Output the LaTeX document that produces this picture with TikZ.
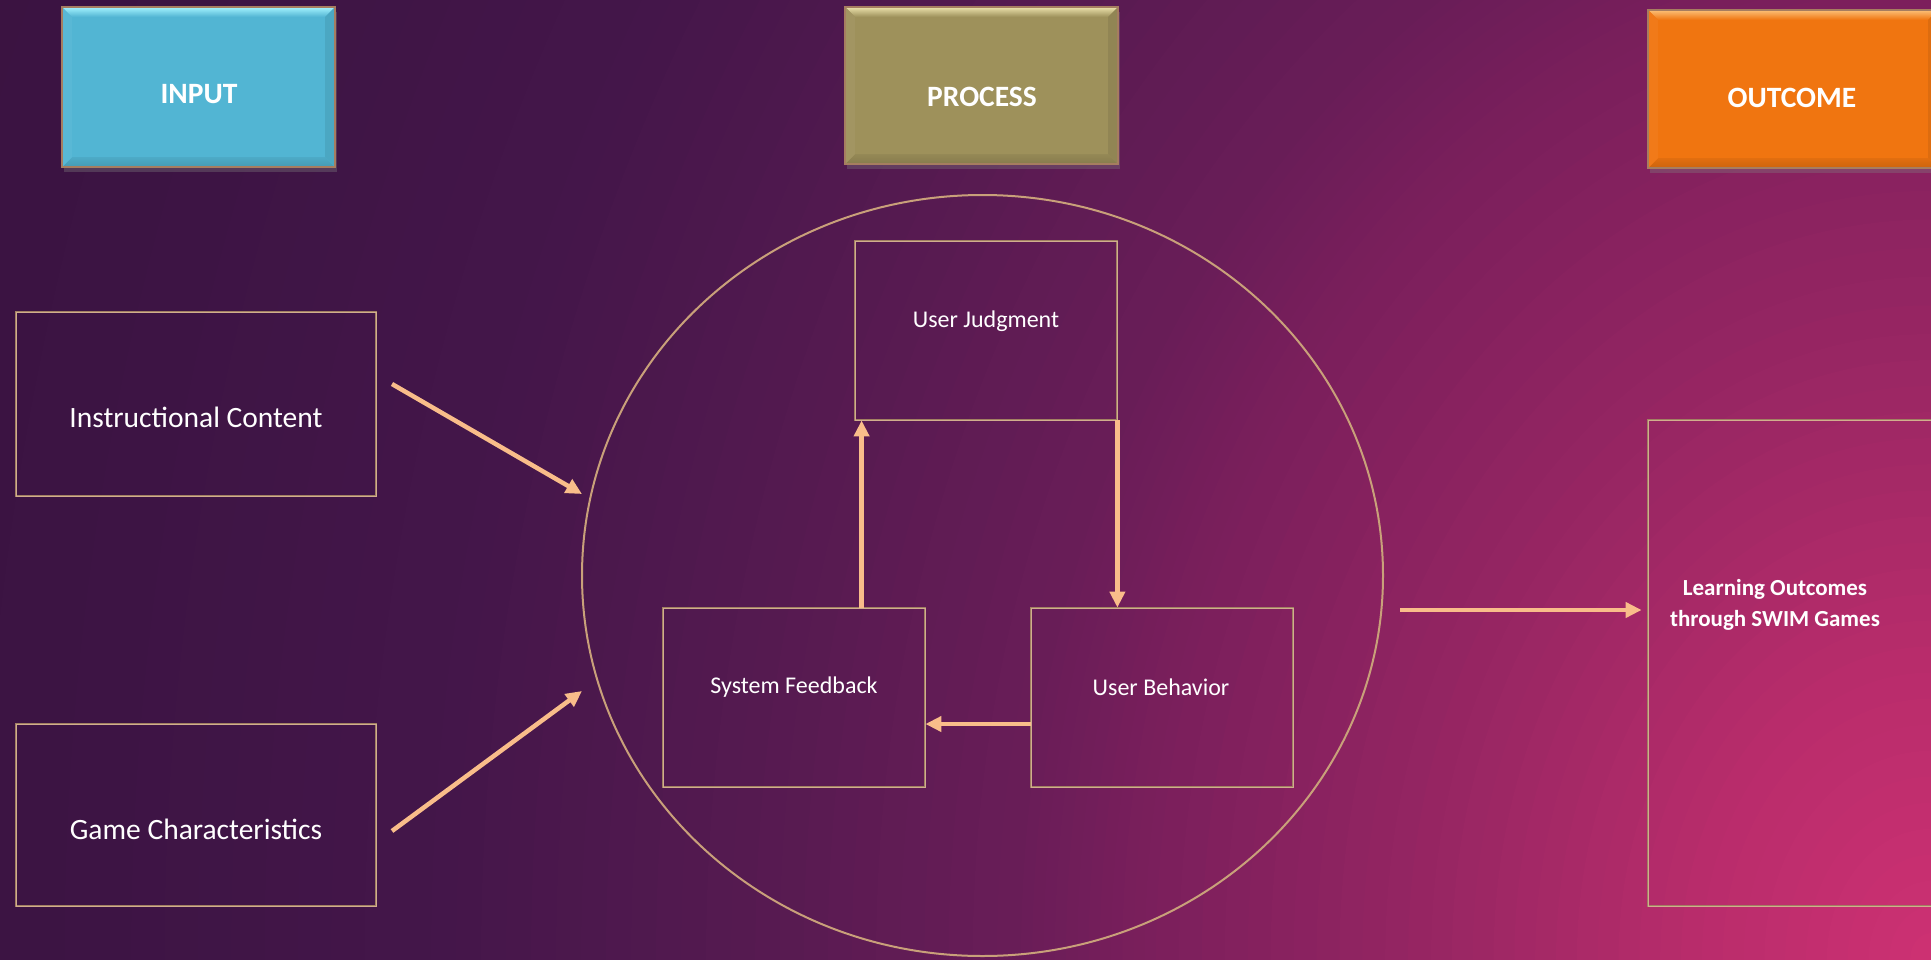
\documentclass[tikz,border=0pt]{standalone}
\usepackage{fontspec}
\setmainfont{Carlito}
\usetikzlibrary{shapes.geometric,arrows.meta,calc,shadows}
\definecolor{bg0}{HTML}{CE3173}
\definecolor{bg1}{HTML}{B82C6B}
\definecolor{bg2}{HTML}{982663}
\definecolor{bg3}{HTML}{7C1F5C}
\definecolor{bg4}{HTML}{6A1D58}
\definecolor{bg5}{HTML}{551A50}
\definecolor{bg6}{HTML}{44164A}
\definecolor{bg7}{HTML}{3C1443}
\definecolor{bg8}{HTML}{3A1240}
\definecolor{tan}{HTML}{C9A07A}
\definecolor{tandark}{HTML}{A67D60}
\definecolor{peach}{HTML}{F9BD8A}
\definecolor{inpfill}{HTML}{52B5D3}
\definecolor{inplight}{HTML}{A6F4FF}
\definecolor{prcfill}{HTML}{9E915B}
\definecolor{prclight}{HTML}{EDE4AE}
\definecolor{outfill}{HTML}{F07510}
\definecolor{outlight}{HTML}{FCC27A}
\newcommand\bgring[4]{%
  \foreach \k in {0,...,11}{%
    \pgfmathsetmacro\rr{#1-(#1-#2)*\k/12}%
    \pgfmathsetmacro\pp{100*\k/12}%
    \fill[#4!\pp!#3] (1931,959) ellipse [x radius=\rr pt, y radius={1.25*\rr pt}];
  }%
}
\newcommand\hdrbevel[3]{%
  \shade[top color=#2, bottom color=#3] (#1.north west) -- (#1.north east) -- ([shift={(-10pt,-10pt)}]#1.north east) -- ([shift={(10pt,-10pt)}]#1.north west) -- cycle;
  \shade[top color=#3!94!black, bottom color=#3!85!black] ([shift={(10pt,10pt)}]#1.south west) -- ([shift={(-10pt,10pt)}]#1.south east) -- (#1.south east) -- (#1.south west) -- cycle;
  \fill[#3!92!black] (#1.north east) -- ([shift={(-10pt,-10pt)}]#1.north east) -- ([shift={(-10pt,10pt)}]#1.south east) -- (#1.south east) -- cycle;
  \fill[#3!96!white] (#1.north west) -- ([shift={(10pt,-10pt)}]#1.north west) -- ([shift={(10pt,10pt)}]#1.south west) -- (#1.south west) -- cycle;
  \draw[tandark, line width=2pt] (#1.north west) rectangle (#1.south east);
}
\tikzset{
  hdrbox/.style={rectangle, inner sep=0pt, drop shadow={shadow xshift=2pt, shadow yshift=-5pt, opacity=0.35}},
  hdrtext/.style={text=white, font=\bfseries\fontsize{29.5}{35}\selectfont, inner sep=0pt},
  framebox/.style={rectangle, inner sep=0pt, draw=tan!80!black, line width=0.8pt, double=tan!85!white, double distance=0.8pt},
  boxtext/.style={text=white, inner sep=0pt},
  arr/.style={draw=peach, line width=4.5pt, -{Triangle[length=16pt,width=15pt]}},
}
\begin{document}
\begin{tikzpicture}[x=1pt, y=-1pt]
\useasboundingbox (0,0) rectangle (1931,959);
\begin{scope}
\clip (0,0) rectangle (1931,959);
\fill[bg8] (0,0) rectangle (1931,959);
\bgring{2200}{1900}{bg8}{bg7}
\bgring{1900}{1500}{bg7}{bg6}
\bgring{1500}{1200}{bg6}{bg5}
\bgring{1200}{910}{bg5}{bg4}
\bgring{910}{775}{bg4}{bg3}
\bgring{775}{500}{bg3}{bg2}
\bgring{500}{250}{bg2}{bg1}
\bgring{250}{0}{bg1}{bg0}

% header boxes
\node[hdrbox, fill=inpfill, minimum width=273pt, minimum height=160pt] (inp) at (198.5,87) {};
\hdrbevel{inp}{inplight}{inpfill}
\node[hdrtext] (inpt) at (199,94) {INPUT};

\node[hdrbox, fill=prcfill, minimum width=273pt, minimum height=157pt] (prc) at (981.5,85.5) {};
\hdrbevel{prc}{prclight}{prcfill}
\node[hdrtext] (prct) at (982,97) {PROCESS};

\node[hdrbox, fill=outfill, minimum width=290pt, minimum height=158pt] (out) at (1793,89) {};
\hdrbevel{out}{outlight}{outfill}
\node[hdrtext] (outt) at (1792,98) {OUTCOME};

% input boxes
\node[framebox, minimum width=360pt, minimum height=184pt] (ic) at (196,404) {};
\node[boxtext, font=\fontsize{29.5}{35}\selectfont] (ict) at (196,417) {Instructional Content};
\node[framebox, minimum width=360pt, minimum height=182pt] (gc) at (196,815) {};
\node[boxtext, font=\fontsize{29.5}{35}\selectfont] (gct) at (196,829) {Game Characteristics};

% process circle
\node[ellipse, draw=tan, line width=2pt, minimum width=801pt, minimum height=761pt, inner sep=0pt] (proc) at (982.5,575.5) {};

\node[framebox, minimum width=262pt, minimum height=179pt] (uj) at (986,330.5) {};
\node[boxtext, font=\fontsize{24}{29}\selectfont] (ujt) at (986,321) {User Judgment};
\node[framebox, minimum width=262pt, minimum height=179pt] (sf) at (794,697.5) {};
\node[boxtext, font=\fontsize{24}{29}\selectfont] (sft) at (794,687) {System Feedback};
\node[framebox, minimum width=262pt, minimum height=179pt] (ub) at (1162,697.5) {};
\node[boxtext, font=\fontsize{24}{29}\selectfont] (ubt) at (1161,687) {User Behavior};

% outcome box
\node[framebox, minimum width=290pt, minimum height=486pt] (lo) at (1793,663) {};
\node[boxtext, font=\bfseries\fontsize{23}{31}\selectfont, align=center] (lot) at (1775,605) {Learning Outcomes\\through SWIM Games};

% connectors
\coordinate (a1s) at (392,384);
\coordinate (a1e) at (582,494);
\coordinate (a2s) at (392,831);
\coordinate (a2e) at (582,691);
\coordinate (a3s) at (1400,610);
\draw[arr] (a1s) -- (a1e);
\draw[arr] (a2s) -- (a2e);
\draw[arr, shorten >=6pt] (a3s) -- (a3s -| lo.west);
\draw[arr] ([xshift=7pt]sf.north -| uj.west) -- ([xshift=7pt]uj.south west);
\draw[arr] (uj.south east) -- (uj.south east |- ub.north);
\draw[arr] ([yshift=-26.5pt]ub.west) -- ([yshift=-26.5pt]ub.west -| sf.east);
\end{scope}
\end{tikzpicture}
\end{document}
